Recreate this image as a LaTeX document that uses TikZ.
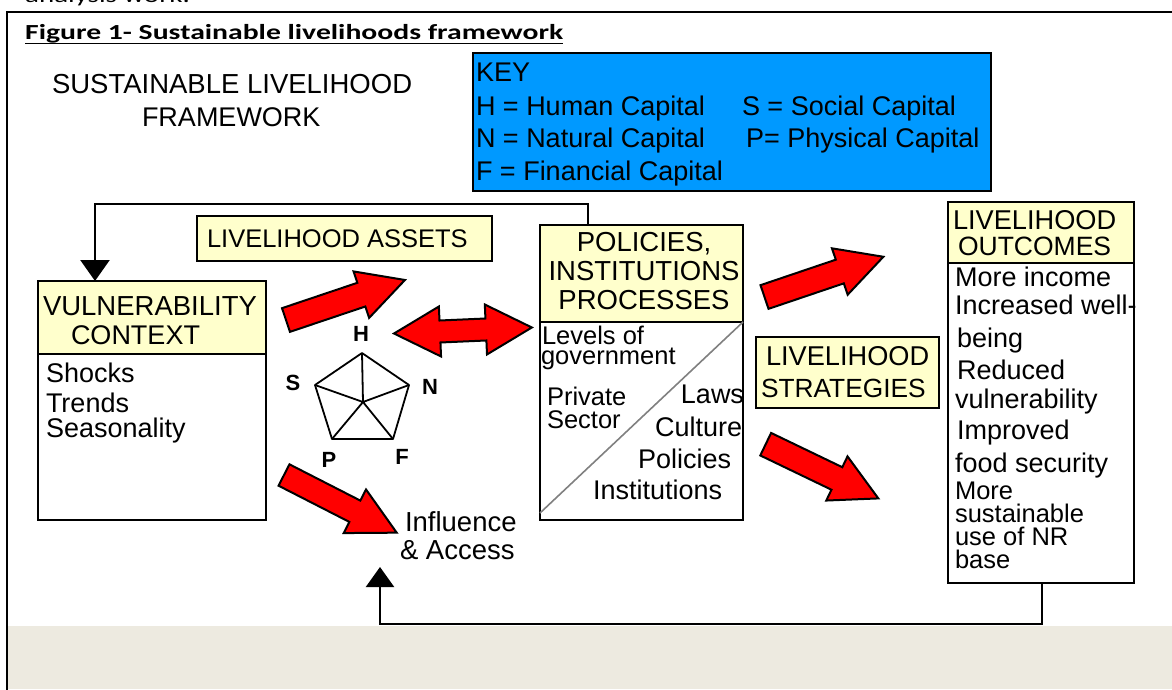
\documentclass[tikz,border=0pt]{standalone}
\usepackage{fontspec}
\setmainfont{Liberation Sans}
\newfontfamily\titlefont[FakeStretch=1.38]{Carlito}
\usetikzlibrary{arrows.meta}
\definecolor{keyblue}{RGB}{0,153,255}
\definecolor{hdryellow}{RGB}{255,255,204}
\definecolor{pagegray}{RGB}{237,234,224}
\definecolor{diaggray}{RGB}{128,128,128}
\definecolor{arrowred}{RGB}{255,0,0}
\tikzset{
  box/.style={draw=black, line width=2.6pt, anchor=north west, inner sep=0pt, outer sep=0pt},
  hdr/.style={box, fill=hdryellow},
  bodybox/.style={box, fill=white},
  txt/.style={inner sep=0pt, outer sep=0pt, anchor=base west, font=\fontsize{27}{30}\selectfont},
  tight/.style={txt, font=\fontsize{25.5}{28}\selectfont},
  ctxt/.style={txt, anchor=base},
  plabel/.style={inner sep=0pt, font=\bfseries\fontsize{22}{22}\selectfont},
  penta/.style={draw=black, line width=1.8pt, line join=round},
  conn/.style={draw=black, line width=2.4pt, line join=miter},
  redarrow/.style={fill=arrowred, draw=black, line width=2pt, line join=miter},
  pics/blockarrow/.style n args={4}{code={
    \path[redarrow] (0,{-#2/2}) -- ({#1-#4},{-#2/2}) -- ({#1-#4},{-#3/2}) -- (#1,0)
      -- ({#1-#4},{#3/2}) -- ({#1-#4},{#2/2}) -- (0,{#2/2}) -- cycle;
  }},
  pics/dblarrow/.style n args={4}{code={
    \path[redarrow] (0,0) -- (#4,{-#3/2}) -- (#4,{-#2/2}) -- ({#1-#4},{-#2/2}) -- ({#1-#4},{-#3/2})
      -- (#1,0) -- ({#1-#4},{#3/2}) -- ({#1-#4},{#2/2}) -- (#4,{#2/2}) -- (#4,{#3/2}) -- cycle;
  }},
}
\begin{document}
\begin{tikzpicture}[x=1pt,y=-1pt]
\useasboundingbox (0,0) rectangle (1172,689);
\fill[white] (0,0) rectangle (1172,689);
% page text cut at top
\node[inner sep=0pt, anchor=base west, font=\titlefont\fontsize{21}{22}\selectfont] (cut) at (25,2) {analysis work.};
% grey strip and frame
\fill[pagegray] (7,626) rectangle (1172,689);
\draw[line width=2pt] (1180,11.5) -- (6.5,11.5) -- (6.5,695);
% title
\node[inner sep=0pt, anchor=base west, font=\titlefont\bfseries\fontsize{21.5}{22}\selectfont] (title) at (25,39.5) {Figure 1- Sustainable livelihoods framework};
\draw[line width=1.6pt] ([yshift=-4pt]title.base west) -- ([yshift=-4pt]title.base east);
% diagram title
\node[txt, font=\fontsize{27.5}{30}\selectfont] (slf1) at (52,93) {SUSTAINABLE LIVELIHOOD};
\node[txt] (slf2) at (142,126) {FRAMEWORK};
% key
\node[box, fill=keyblue, minimum width=518pt, minimum height=138pt] (key) at (473,53) {};
\node[txt] (k0) at (476,81) {KEY};
\node[txt] (k1) at (476,115) {H = Human Capital};
\node[txt] (k2) at (742,115) {S = Social Capital};
\node[txt] (k3) at (476,147) {N = Natural Capital};
\node[txt] (k4) at (746,147) {P= Physical Capital};
\node[txt] (k5) at (476,180) {F = Financial Capital};
% livelihood assets
\node[hdr, minimum width=295pt, minimum height=45pt] (assets) at (197,216) {};
\node[txt, font=\fontsize{25.5}{30}\selectfont] (assetsT) at (207,247) {LIVELIHOOD ASSETS};
% vulnerability context
\node[bodybox, minimum width=228pt, minimum height=166pt] (vulnBody) at (38,354) {};
\node[hdr, minimum width=228pt, minimum height=73pt] (vulnHead) at (38,281) {};
\node[txt, font=\fontsize{27.5}{30}\selectfont] (v1) at (43,315) {VULNERABILITY};
\node[txt] (v2) at (71,344) {CONTEXT};
\node[txt] (v3) at (46,382) {Shocks};
\node[txt] (v4) at (46,412) {Trends};
\node[txt] (v5) at (46,437) {Seasonality};
% policies
\node[bodybox, minimum width=203pt, minimum height=198pt] (polBody) at (540,322) {};
\node[hdr, minimum width=203pt, minimum height=97pt] (polHead) at (540,225) {};
\draw[diaggray, line width=1.6pt] (polBody.north east) -- ([yshift=7pt]polBody.south west);
\node[ctxt, font=\fontsize{27.5}{30}\selectfont] (p1) at (644,251) {POLICIES,};
\node[ctxt, font=\fontsize{27.5}{30}\selectfont] (p2) at (644,280) {INSTITUTIONS};
\node[ctxt, font=\fontsize{27.5}{30}\selectfont] (p3) at (644,309) {PROCESSES};
\node[tight] (p4) at (542,344) {Levels of};
\node[tight] (p5) at (541,364) {government};
\node[tight] (p6) at (547,405) {Private};
\node[tight] (p7) at (547,428) {Sector};
\node[txt, anchor=base east] (p8) at (744,403) {Laws};
\node[txt] (p9) at (655,436) {Culture};
\node[txt] (p10) at (638,468) {Policies};
\node[txt] (p11) at (593,499) {Institutions};
% strategies
\node[hdr, minimum width=183pt, minimum height=71pt] (strat) at (756,337) {};
\node[txt, font=\fontsize{27.2}{30}\selectfont] (s1) at (766,365) {LIVELIHOOD};
\node[txt, font=\fontsize{26.3}{30}\selectfont] (s2) at (761,397) {STRATEGIES};
% outcomes
\node[bodybox, minimum width=186pt, minimum height=320pt] (outBody) at (948,263) {};
\node[hdr, minimum width=186pt, minimum height=61pt] (outHead) at (948,202) {};
\node[txt, font=\fontsize{27.2}{30}\selectfont] (o1) at (953,229) {LIVELIHOOD};
\node[txt, font=\fontsize{26.5}{30}\selectfont] (o2) at (958,255) {OUTCOMES};
\node[txt] (o3) at (955,286) {More income};
\node[txt] (o4) at (955,314) {Increased well-};
\node[txt] (o5) at (957,347) {being};
\node[txt] (o6) at (957,379) {Reduced};
\node[txt] (o7) at (955,408) {vulnerability};
\node[txt] (o8) at (957,439) {Improved};
\node[txt] (o9) at (955,472) {food security};
\node[tight] (o10) at (955,499) {More};
\node[tight] (o11) at (955,522) {sustainable};
\node[tight] (o12) at (955,545) {use of NR};
\node[tight] (o13) at (955,568) {base};
% influence & access
\node[txt, font=\fontsize{27.5}{30}\selectfont] (inf1) at (405,531) {Influence};
\node[txt, font=\fontsize{27.5}{30}\selectfont] (inf2) at (400,559) {\& Access};
% pentagon
\coordinate (pH) at (362,353);
\coordinate (pN) at (409,385);
\coordinate (pF) at (393,439);
\coordinate (pP) at (332,439);
\coordinate (pS) at (315,385);
\coordinate (pC) at (363,402);
\draw[penta] (pH) -- (pN) -- (pF) -- (pP) -- (pS) -- cycle;
\draw[penta] (pC) -- (pH) (pC) -- (pN) (pC) -- (pF) (pC) -- (pP) (pC) -- (pS);
\node[plabel] (lH) at (361,334) {H};
\node[plabel] (lS) at (293,383) {S};
\node[plabel] (lN) at (430,387) {N};
\node[plabel] (lP) at (329,460) {P};
\node[plabel] (lF) at (402,457) {F};
% red block arrows
\pic[rotate=18.6] (arrA) at (286,320) {blockarrow={125.5}{25}{49}{46}};
\pic[rotate=18.7] (arrB) at (764.5,297) {blockarrow={125.5}{25}{49}{46}};
\pic[rotate=-25.7] (arrC) at (765.7,444.2) {blockarrow={125}{25}{49}{46}};
\pic[rotate=-27.1] (arrD) at (284,475) {blockarrow={126.6}{24}{49}{47}};
\pic[rotate=2.5] (arrE) at (394,333.5) {dblarrow={138}{22}{50}{46}};
% connectors
\coordinate (ptx) at (588,204);
\coordinate (vtx) at (95,204);
\draw[conn, -{Triangle[width=29pt,length=21pt]}] (polHead.north -| ptx) |- (vtx) -- (vtx |- vulnHead.north);
\coordinate (obx) at (1042,624);
\coordinate (accessPt) at (380,567);
\draw[conn, -{Triangle[width=28pt,length=20pt]}] (outBody.south -| obx) -- (obx) -| (accessPt);
\end{tikzpicture}
\end{document}
